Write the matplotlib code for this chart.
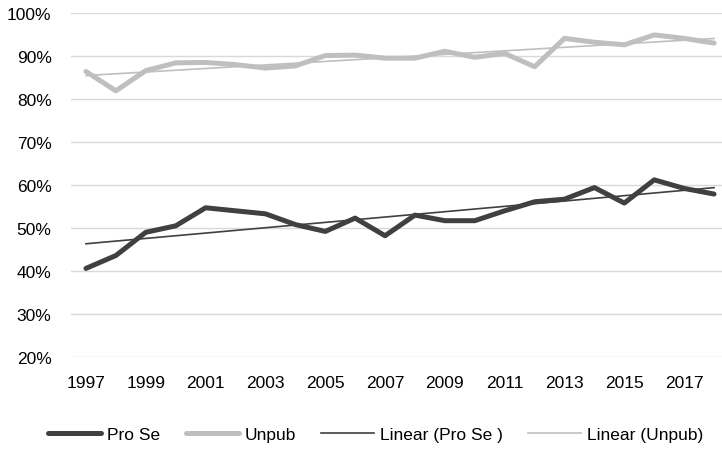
import numpy as np
import matplotlib
matplotlib.use("Agg")
import matplotlib.pyplot as plt
from matplotlib.ticker import PercentFormatter, FixedLocator

years = list(range(1997, 2019))
pro_se = [40.6, 43.6, 49.0, 50.5, 54.7, 54.0, 53.3, 50.8, 49.2, 52.3, 48.2,
          53.0, 51.7, 51.7, 54.0, 56.1, 56.7, 59.4, 55.8, 61.2, 59.2, 57.9]
unpub = [86.4, 81.9, 86.6, 88.4, 88.5, 88.0, 87.2, 87.7, 90.1, 90.2, 89.5,
         89.5, 91.1, 89.7, 90.6, 87.5, 94.1, 93.2, 92.6, 94.9, 94.1, 93.0]
year_labels = [str(y) for y in years[::2]]

plt.rcParams['font.family'] = ['Liberation Sans', 'DejaVu Sans']

def main():
    fig = plt.figure(figsize=(7.22, 4.52), dpi=100)
    # axes runs a little past the right edge, like the original
    ax = fig.add_axes([71 / 722, 1 - 358 / 452, 658 / 722, 344 / 452])

    x = np.array(years)
    dark = '#404040'
    light = '#bfbfbf'

    ax.plot(x, pro_se, color=dark, lw=3.6, label='Pro Se', solid_capstyle='round', zorder=4)
    ax.plot(x, unpub, color=light, lw=3.6, label='Unpub', solid_capstyle='round', zorder=4)

    # linear trend lines
    p1 = np.polyfit(x, pro_se, 1)
    p2 = np.polyfit(x, unpub, 1)
    ax.plot(x, np.polyval(p1, x), color=dark, lw=1.2, label='Linear (Pro Se )', zorder=5)
    ax.plot(x, np.polyval(p2, x), color=light, lw=1.2, label='Linear (Unpub)', zorder=5)

    ax.set_xlim(1996.5, 2018.5)
    ax.set_ylim(20, 100)
    ax.set_yticks(range(20, 101, 10))
    ax.yaxis.set_major_formatter(PercentFormatter(decimals=0))
    ax.xaxis.set_major_locator(FixedLocator(years[::2]))
    ax.set_xticklabels(year_labels)

    ax.grid(axis='y', color='#d9d9d9', lw=1)
    ax.set_axisbelow(True)
    for s in ax.spines.values():
        s.set_visible(False)
    ax.tick_params(length=0, labelsize=12.5, colors='#000000')
    ax.tick_params(axis='x', pad=13)
    ax.tick_params(axis='y', pad=14)

    fig.legend(loc='center', bbox_to_anchor=(376 / 722, 1 - 435 / 452), ncol=4,
               frameon=False, fontsize=12.5, handlelength=3.05, handletextpad=0.35,
               columnspacing=1.45)

    fig.savefig('out.png', dpi=100)

if __name__ == '__main__':
    main()
